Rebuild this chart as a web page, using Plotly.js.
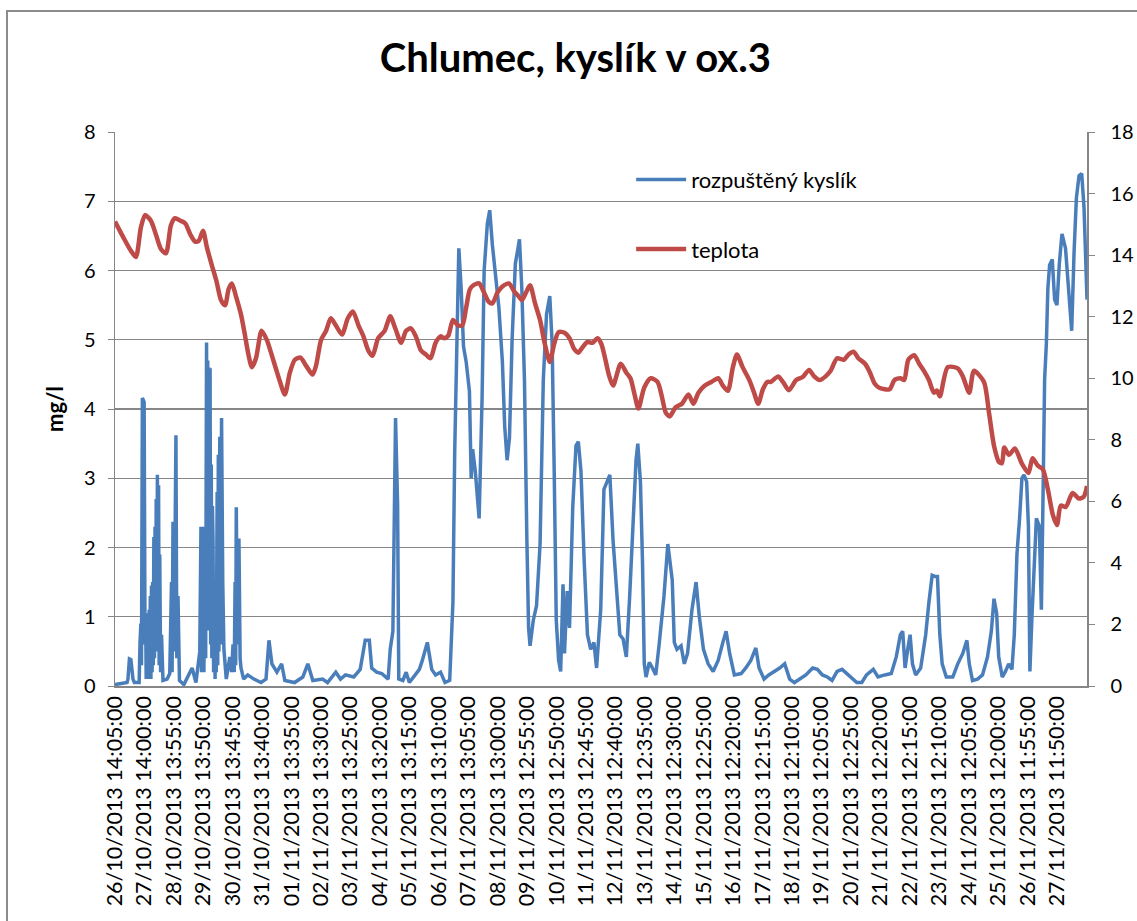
<!DOCTYPE html>
<html>
<head>
<meta charset="utf-8">
<script src="https://cdn.plot.ly/plotly-3.0.1.min.js"></script>
<style>
  html, body { margin: 0; padding: 0; background: #ffffff; }
  #wrap { position: relative; width: 1137px; height: 921px; overflow: hidden; }
  #chart { position: absolute; left: 0; top: 0; width: 1137px; height: 921px; }
  #frame { position: absolute; left: 6px; top: 10px; width: 1200px; height: 1000px;
           border: 2px solid #8c8c8c; box-sizing: border-box; pointer-events: none; }
</style>
</head>
<body>
<div id="wrap">
  <div id="chart"></div>
  <div id="frame"></div>
</div>
<script>
// ---- category tick labels (one per day) ----
const categories = [
  "26/10/2013 14:05:00", "27/10/2013 14:00:00", "28/10/2013 13:55:00", "29/10/2013 13:50:00",
  "30/10/2013 13:45:00", "31/10/2013 13:40:00", "01/11/2013 13:35:00", "02/11/2013 13:30:00",
  "03/11/2013 13:25:00", "04/11/2013 13:20:00", "05/11/2013 13:15:00", "06/11/2013 13:10:00",
  "07/11/2013 13:05:00", "08/11/2013 13:00:00", "09/11/2013 12:55:00", "10/11/2013 12:50:00",
  "11/11/2013 12:45:00", "12/11/2013 12:40:00", "13/11/2013 12:35:00", "14/11/2013 12:30:00",
  "15/11/2013 12:25:00", "16/11/2013 12:20:00", "17/11/2013 12:15:00", "18/11/2013 12:10:00",
  "19/11/2013 12:05:00", "20/11/2013 12:25:00", "21/11/2013 12:20:00", "22/11/2013 12:15:00",
  "23/11/2013 12:10:00", "24/11/2013 12:05:00", "25/11/2013 12:00:00", "26/11/2013 11:55:00",
  "27/11/2013 11:50:00"
];

// ---- rozpuštěný kyslík (mg/l), first days (dense spikes): time in days since first sample ----
const oxygenEarlyDays = [
  0, 0.17, 0.41, 0.44, 0.49, 0.54, 0.61, 0.66, 0.82, 0.85,
  0.88, 0.90, 0.93, 0.99, 1.02, 1.04, 1.06, 1.08, 1.10, 1.12,
  1.14, 1.16, 1.18, 1.20, 1.22, 1.24, 1.26, 1.28, 1.30, 1.32,
  1.34, 1.36, 1.38, 1.40, 1.42, 1.44, 1.46, 1.48, 1.50, 1.52,
  1.55, 1.58, 1.63, 1.77, 1.86, 1.92, 1.94, 1.97, 2.01, 2.04,
  2.07, 2.10, 2.14, 2.19, 2.34, 2.62, 2.75, 2.88, 2.92, 2.94,
  2.96, 2.98, 3.00, 3.02, 3.04, 3.06, 3.08, 3.11, 3.13, 3.15,
  3.17, 3.19, 3.21, 3.23, 3.25, 3.27, 3.29, 3.31, 3.33, 3.35,
  3.38, 3.40, 3.42, 3.44, 3.47, 3.49, 3.51, 3.53, 3.56, 3.58,
  3.60, 3.62, 3.66, 3.70, 3.78, 3.90, 3.96, 4.01, 4.05, 4.08,
  4.10, 4.12, 4.16, 4.21, 4.25, 4.28, 4.37
];
const oxygenEarlyValues = [
  0.02, 0.03, 0.05, 0.10, 0.39, 0.38, 0.10, 0.05, 0.05, 0.63,
  0.90, 0.30, 4.16, 4.10, 0.60, 1.05, 0.10, 0.90, 0.10, 0.87,
  0.10, 1.10, 0.15, 1.30, 0.10, 1.45, 0.20, 1.50, 0.30, 2.15,
  0.40, 2.30, 0.50, 2.70, 0.60, 3.05, 1.00, 2.90, 0.30, 1.90,
  0.20, 0.74, 0.08, 0.10, 0.18, 1.50, 0.20, 2.37, 0.50, 3.00,
  3.62, 0.40, 1.30, 0.08, 0.02, 0.26, 0.05, 0.50, 2.30, 0.20,
  2.30, 0.30, 2.30, 0.20, 2.30, 2.30, 0.40, 4.96, 1.00, 4.70,
  0.80, 4.60, 1.50, 4.59, 0.60, 3.20, 0.40, 2.60, 2.10, 0.20,
  1.50, 0.10, 1.16, 0.20, 2.80, 0.30, 3.34, 0.50, 3.60, 0.60,
  3.80, 3.87, 1.50, 0.53, 0.10, 0.42, 0.20, 0.60, 0.20, 1.50,
  0.30, 2.58, 0.60, 2.13, 0.40, 0.26, 0.10
];

// ---- rozpuštěný kyslík (mg/l), remaining period ----
const oxygenDays = [
  4.51, 4.72, 4.96, 5.13, 5.23, 5.33, 5.50, 5.66, 5.77, 6.10, 6.38, 6.55, 6.72, 7.05, 7.22, 7.50, 7.66, 7.83,
  8.11, 8.33, 8.50, 8.64, 8.72, 8.89, 9.06, 9.28, 9.35, 9.44, 9.53, 9.60, 9.64, 9.78, 9.89, 10.00,
  10.34, 10.44, 10.61, 10.76, 10.89, 11.06, 11.21, 11.37, 11.48, 11.54, 11.62, 11.68, 11.76, 11.84,
  11.93, 12.04, 12.10, 12.15, 12.24, 12.32, 12.37, 12.47, 12.54, 12.65, 12.73, 12.82, 12.93, 13.04,
  13.16, 13.24, 13.32, 13.40, 13.49, 13.60, 13.69, 13.74, 13.82, 13.91, 13.99, 14.05, 14.10, 14.21,
  14.32, 14.44, 14.55, 14.66, 14.77, 14.85, 14.92, 14.99, 15.07, 15.14, 15.22, 15.27, 15.36, 15.44,
  15.55, 15.66, 15.74, 15.83, 15.94, 16.05, 16.16, 16.27, 16.36, 16.50, 16.61, 16.81, 16.92, 17.03,
  17.15, 17.26, 17.37, 17.48, 17.59, 17.70, 17.76, 17.85, 17.92, 17.98, 18.04, 18.15, 18.26, 18.37,
  18.48, 18.65, 18.78, 18.85, 18.93, 19.00, 19.09, 19.23, 19.34, 19.45, 19.60, 19.74, 19.85, 19.99,
  20.15, 20.32, 20.49, 20.65, 20.76, 20.88, 21.04, 21.27, 21.43, 21.60, 21.77, 21.88, 22.05, 22.21,
  22.41, 22.58, 22.75, 22.92, 23.08, 23.25, 23.47, 23.70, 23.86, 24.03, 24.20, 24.36, 24.53, 24.70,
  24.86, 25.03, 25.20, 25.37, 25.53, 25.76, 25.92, 26.15, 26.37, 26.54, 26.68, 26.76, 26.84, 26.93,
  27.01, 27.09, 27.20, 27.37, 27.54, 27.65, 27.76, 27.87, 27.94, 28.02, 28.10, 28.24, 28.46, 28.63,
  28.80, 28.94, 29.02, 29.13, 29.30, 29.47, 29.64, 29.77, 29.86, 29.95, 30.02, 30.14, 30.25, 30.36,
  30.47, 30.55, 30.64, 30.73, 30.81, 30.88, 30.97, 31.03, 31.08, 31.15, 31.22, 31.30, 31.40, 31.47,
  31.53, 31.58, 31.64, 31.69, 31.75, 31.84, 31.92, 32.00, 32.08, 32.17, 32.29, 32.36, 32.44, 32.50,
  32.58, 32.66, 32.75, 32.84, 32.92, 32.96, 33.02
];
const oxygenValues = [
  0.16, 0.10, 0.05, 0.10, 0.66, 0.32, 0.20, 0.32, 0.08, 0.05, 0.13, 0.32, 0.08, 0.10, 0.05, 0.20, 0.10, 0.16,
  0.13, 0.24, 0.66, 0.66, 0.26, 0.20, 0.18, 0.10, 0.53, 0.79, 3.87, 2.63, 0.10, 0.08, 0.20, 0.05,
  0.24, 0.37, 0.63, 0.24, 0.16, 0.20, 0.05, 0.08, 1.21, 3.37, 4.95, 6.32, 5.74, 4.90,
  4.68, 4.26, 3.00, 3.42, 3.10, 2.74, 2.42, 4.16, 6.00, 6.68, 6.87, 6.37, 5.89, 5.47,
  4.68, 3.74, 3.26, 3.58, 5.00, 6.10, 6.32, 6.45, 5.74, 4.42, 2.16, 0.84, 0.58, 0.95,
  1.16, 2.05, 4.42, 5.37, 5.63, 4.95, 3.10, 0.95, 0.37, 0.21, 1.47, 0.47, 1.37, 0.84,
  2.58, 3.47, 3.53, 3.10, 1.79, 0.74, 0.53, 0.63, 0.26, 1.10, 2.84, 3.05, 2.10, 1.37,
  0.74, 0.68, 0.42, 1.26, 2.31, 3.26, 3.50, 2.95, 1.79, 0.32, 0.13, 0.34, 0.26, 0.16,
  0.58, 1.30, 2.05, 1.79, 1.53, 0.63, 0.53, 0.58, 0.32, 0.47, 1.10, 1.50, 1.00, 0.53,
  0.32, 0.21, 0.37, 0.63, 0.79, 0.47, 0.16, 0.18, 0.26, 0.37, 0.55, 0.26, 0.10, 0.16,
  0.21, 0.26, 0.32, 0.10, 0.05, 0.10, 0.16, 0.26, 0.24, 0.16, 0.13, 0.08, 0.21, 0.24,
  0.18, 0.10, 0.05, 0.05, 0.16, 0.24, 0.13, 0.16, 0.18, 0.42, 0.74, 0.79, 0.26, 0.53,
  0.74, 0.32, 0.16, 0.26, 0.74, 1.21, 1.60, 1.58, 1.58, 0.74, 0.32, 0.13, 0.13, 0.32,
  0.47, 0.66, 0.32, 0.08, 0.10, 0.16, 0.42, 0.79, 1.26, 1.05, 0.42, 0.13, 0.21, 0.32,
  0.24, 0.74, 1.90, 2.42, 3.00, 3.05, 2.95, 2.31, 0.21, 1.00, 1.63, 2.42, 2.31, 1.10,
  2.84, 4.42, 4.95, 5.74, 6.08, 6.16, 5.58, 5.50, 6.10, 6.53, 6.32, 5.89, 5.37, 5.13,
  6.26, 7.05, 7.37, 7.40, 6.90, 6.20, 5.58
];

// ---- teplota (°C): time in days since first sample ----
const tempDays = [
  0, 0.27, 0.54, 0.71, 0.88, 1.02, 1.22, 1.39, 1.56, 1.73, 1.90, 2.04, 2.22, 2.39, 2.56, 2.72,
  2.84, 2.99, 3.12, 3.29, 3.45, 3.60, 3.74, 3.86, 3.97, 4.11, 4.28, 4.40, 4.52, 4.65, 4.79, 4.98,
  5.16, 5.30, 5.47, 5.60, 5.77, 5.94, 6.11, 6.30, 6.49, 6.71, 6.83, 7.00, 7.17, 7.33, 7.50, 7.71,
  7.91, 8.08, 8.27, 8.44, 8.61, 8.75, 8.94, 9.16, 9.35, 9.53, 9.72, 9.89, 10.05, 10.22, 10.39, 10.56,
  10.72, 10.89, 11.06, 11.18, 11.32, 11.48, 11.65, 11.80, 11.93, 12.06, 12.21, 12.37, 12.54, 12.69,
  12.82, 12.99, 13.16, 13.38, 13.55, 13.71, 13.82, 13.96, 14.10, 14.27, 14.44, 14.60, 14.77, 14.92,
  15.07, 15.27, 15.44, 15.60, 15.74, 15.88, 16.05, 16.22, 16.39, 16.52, 16.66, 16.78, 16.92, 17.18,
  17.37, 17.51, 17.65, 17.78, 17.98, 18.20, 18.43, 18.59, 18.71, 18.85, 19.04, 19.26, 19.48, 19.65,
  19.82, 20.04, 20.26, 20.49, 20.65, 20.82, 20.99, 21.13, 21.32, 21.55, 21.71, 21.85, 22.01, 22.16,
  22.28, 22.53, 22.69, 22.89, 23.14, 23.36, 23.58, 23.75, 23.94, 24.14, 24.31, 24.53, 24.76, 24.92,
  25.09, 25.25, 25.48, 25.65, 25.81, 25.98, 26.31, 26.48, 26.68, 26.81, 26.95, 27.15, 27.32, 27.48,
  27.65, 27.82, 27.92, 28.02, 28.29, 28.63, 28.80, 29.02, 29.18, 29.52, 29.69, 29.86, 30.03, 30.13,
  30.21, 30.37, 30.57, 30.81, 31.03, 31.17, 31.35, 31.52, 31.69, 31.86, 32.00, 32.13, 32.30, 32.53,
  32.74, 32.91, 33.02
];
const tempValues = [
  15.09, 14.60, 14.14, 13.94, 14.90, 15.30, 15.12, 14.67, 14.20, 14.06, 14.97, 15.20, 15.12, 15.03, 14.67, 14.44,
  14.46, 14.79, 14.26, 13.67, 13.14, 12.54, 12.37, 12.90, 13.08, 12.66, 12.07, 11.48, 10.83, 10.36, 10.65, 11.54,
  11.24, 10.83, 10.30, 9.90, 9.47, 10.18, 10.60, 10.67, 10.41, 10.12, 10.41, 11.24, 11.54, 11.95, 11.72, 11.42,
  11.95, 12.17, 11.72, 11.36, 10.89, 10.73, 11.30, 11.54, 12.01, 11.60, 11.15, 11.54, 11.62, 11.36, 10.91, 10.77,
  10.65, 11.15, 11.36, 11.30, 11.38, 11.89, 11.72, 11.72, 12.30, 12.90, 13.04, 13.08, 12.78, 12.49,
  12.43, 12.78, 12.98, 13.08, 12.84, 12.66, 12.54, 12.78, 13.02, 12.43, 11.89, 11.12, 10.53, 11.12,
  11.50, 11.48, 11.30, 10.95, 10.83, 11.00, 11.18, 11.15, 11.30, 11.12, 10.60, 10.10, 9.76, 10.47,
  10.18, 10.00, 9.47, 9.02, 9.70, 10.00, 9.88, 9.35, 8.88, 8.76, 9.05, 9.17, 9.47, 9.17,
  9.53, 9.76, 9.88, 10.00, 9.76, 9.59, 10.36, 10.77, 10.36, 9.94, 9.53, 9.17, 9.64, 9.88,
  9.88, 10.06, 9.88, 9.61, 9.94, 10.04, 10.27, 10.06, 9.94, 10.06, 10.24, 10.65, 10.60, 10.77,
  10.86, 10.65, 10.47, 10.18, 9.82, 9.68, 9.64, 9.94, 10.00, 9.94, 10.60, 10.75, 10.47, 10.24,
  9.94, 9.53, 9.60, 9.41, 10.36, 10.32, 10.06, 9.53, 10.24, 9.88, 8.88, 7.81, 7.28, 7.24,
  7.75, 7.51, 7.72, 7.22, 6.92, 7.40, 7.16, 7.04, 6.39, 5.56, 5.23, 5.86, 5.82, 6.27,
  6.09, 6.15, 6.50
];

const leftTicks = [0, 1, 2, 3, 4, 5, 6, 7, 8];
const rightTicks = [0, 2, 4, 6, 8, 10, 12, 14, 16, 18];

const FONT = 'Lato, "Open Sans", "DejaVu Sans", sans-serif';
const BLUE = '#4A7EBB';
const RED = '#BE4B48';
const GRID = '#868686';

const traces = [
  {
    x: oxygenEarlyDays.concat(oxygenDays), y: oxygenEarlyValues.concat(oxygenValues),
    name: 'rozpuštěný kyslík',
    type: 'scatter', mode: 'lines', yaxis: 'y', legendgroup: 'a',
    line: { color: BLUE, width: 3.5 }
  },
  {
    x: tempDays, y: tempValues, name: 'teplota',
    type: 'scatter', mode: 'lines', yaxis: 'y2', legendgroup: 'b',
    line: { color: RED, width: 4.5, shape: 'spline', smoothing: 0.7 }
  }
];

const layout = {
  width: 1137, height: 921,
  paper_bgcolor: '#ffffff', plot_bgcolor: '#ffffff',
  margin: { l: 115, r: 50, t: 132, b: 235, pad: 0 },
  font: { family: FONT, color: '#000000', size: 19 },
  title: {
    text: 'Chlumec, kyslík v ox.3',
    font: { family: FONT, size: 40, color: '#000000', weight: 'bold' },
    x: 0.506, xref: 'container', xanchor: 'center',
    y: 1 - 58 / 921, yref: 'container', yanchor: 'middle'
  },
  showlegend: true,
  legend: {
    x: 0.531, y: 0.952, xanchor: 'left', yanchor: 'top',
    bgcolor: 'rgba(0,0,0,0)', borderwidth: 0,
    font: { family: FONT, size: 22, color: '#000000' },
    traceorder: 'grouped', tracegroupgap: 38, itemwidth: 50
  },
  xaxis: {
    range: [0, oxygenDays[oxygenDays.length - 1]],
    tickvals: categories.map((_, i) => i),
    ticktext: categories,
    tickangle: -90,
    tickfont: { family: FONT, size: 21.5, color: '#000000' },
    showgrid: false, zeroline: false,
    showline: true, linecolor: GRID, linewidth: 1.5,
    ticks: '', fixedrange: true
  },
  yaxis: {
    range: [0, 8], tickvals: leftTicks,
    tickfont: { family: FONT, size: 20, color: '#000000' },
    showgrid: true, gridcolor: GRID, gridwidth: 1.2,
    zeroline: false, showline: true, linecolor: GRID, linewidth: 1.5,
    ticks: 'outside', ticklen: 6, tickcolor: GRID, ticklabelstandoff: 8,
    title: { text: 'mg/l', font: { family: FONT, size: 22, color: '#000000', weight: 'bold' }, standoff: 14 }
  },
  yaxis2: {
    range: [0, 18], tickvals: rightTicks, overlaying: 'y', side: 'right',
    tickfont: { family: FONT, size: 20, color: '#000000' },
    showgrid: false, zeroline: false, showline: true, linecolor: GRID, linewidth: 1.5,
    ticks: 'outside', ticklen: 6, tickcolor: GRID, ticklabelstandoff: 12
  }
};

Plotly.newPlot('chart', traces, layout, { staticPlot: true, displayModeBar: false });
</script>
</body>
</html>
